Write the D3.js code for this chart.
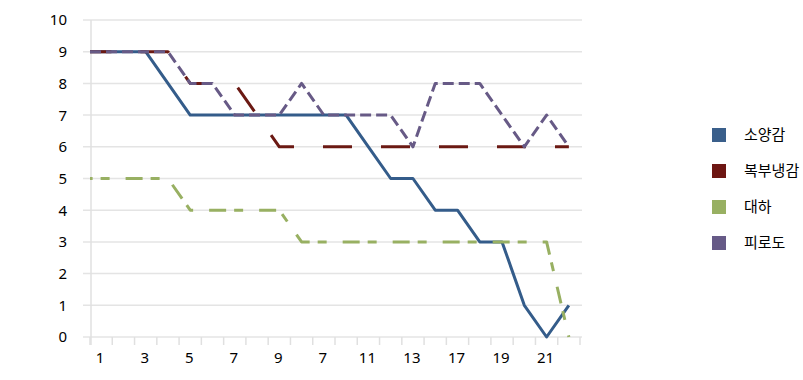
<!DOCTYPE html>
<html>
<head>
<meta charset="utf-8">
<script src="https://cdn.jsdelivr.net/npm/d3@7"></script>
<style>
  html, body { margin: 0; padding: 0; background: #fff; }
  svg { display: block; }
  text { font-family: "Noto Sans", "Noto Sans CJK KR", sans-serif; fill: #000; }
</style>
</head>
<body>
<svg id="chart" width="803" height="380"></svg>
<script>
// ---- data ----
const categories = ["1","2","3","4","5","6","7","8","9","10","11","12","13","14","15","16","17","18","19","20","21","22"];
const xTickLabels = ["1","3","5","7","9","7","11","13","17","19","21"];
const yTicks = [0,1,2,3,4,5,6,7,8,9,10];
const seriesNames = ["소양감","복부냉감","대하","피로도"];
const soyanggam     = [9,9,9,8,7,7,7,7,7,7,7,7,6,5,5,4,4,3,3,1,0,1];
const bokbunaenggam = [9,9,9,9,8,8,8,7,6,6,6,6,6,6,6,6,6,6,6,6,6,6];
const daeha         = [5,5,5,5,4,4,4,4,4,3,3,3,3,3,3,3,3,3,3,3,3,0];
const pirodo        = [9,9,9,9,8,8,7,7,7,8,7,7,7,7,6,8,8,8,7,6,7,6];

const seriesValues = [soyanggam, bokbunaenggam, daeha, pirodo];
const colors = ["#345c8a", "#6b1913", "#98b062", "#675a86"];
const dashes = [null, "29,29", "9,16,17,8", "11,5"];
const dashOffsets = [0, 7.6, 39.4, 0];
const legendColors = ["#3a5f8b", "#6d1612", "#98b062", "#665a87"];

const svg = d3.select("#chart");
const x = d3.scaleLinear().domain([0, categories.length]).range([90, 580]);
const y = d3.scaleLinear().domain([0, 10]).range([337, 20]);

// gridlines
svg.append("g")
  .selectAll("line").data(yTicks).join("line")
  .attr("x1", 83).attr("x2", 582)
  .attr("y1", d => y(d)).attr("y2", d => y(d))
  .attr("stroke", "#e4e4e4").attr("stroke-width", 1.5);

// y axis line
svg.append("line")
  .attr("x1", x(0) + 1).attr("x2", x(0) + 1)
  .attr("y1", y(10)).attr("y2", y(0) + 8)
  .attr("stroke", "#e0e0e0").attr("stroke-width", 1.5);

// x axis ticks
svg.append("g")
  .selectAll("line").data(d3.range(0, categories.length + 1)).join("line")
  .attr("x1", d => x(d)).attr("x2", d => x(d))
  .attr("y1", y(0)).attr("y2", y(0) + 8)
  .attr("stroke", "#e0e0e0").attr("stroke-width", 1.5);

// y labels
svg.append("g")
  .selectAll("text").data(yTicks).join("text")
  .attr("x", 67).attr("y", d => y(d))
  .attr("dy", "0.36em")
  .attr("text-anchor", "end")
  .style("font-size", "15px")
  .text(d => d);

// x labels at every other category
svg.append("g")
  .selectAll("text").data(xTickLabels).join("text")
  .attr("x", (d, i) => x(i * 2 + 0.5) - 1)
  .attr("y", 363)
  .attr("text-anchor", "middle")
  .style("font-size", "15px")
  .text(d => d);

// lines
const line = d3.line().x(d => x(d[0])).y(d => y(d[1]));
seriesValues.forEach((vals, s) => {
  const pts = [[0, vals[0]]].concat(vals.map((v, i) => [i + 0.5, v]));
  const p = svg.append("path")
    .attr("d", line(pts))
    .attr("fill", "none")
    .attr("stroke", colors[s])
    .attr("stroke-width", 3)
    .attr("stroke-linejoin", "round");
  if (dashes[s]) p.attr("stroke-dasharray", dashes[s]).attr("stroke-dashoffset", dashOffsets[s]);
});

// legend
const lg = svg.append("g");
seriesNames.forEach((name, i) => {
  const cy = 135 + i * 36;
  lg.append("rect")
    .attr("x", 712).attr("y", cy - 7)
    .attr("width", 14).attr("height", 14)
    .attr("fill", legendColors[i]);
  lg.append("text")
    .attr("x", 744).attr("y", cy)
    .attr("dy", "0.36em")
    .style("font-size", "15px")
    .style("font-family", "'Noto Sans CJK KR', sans-serif")
    .text(name);
});
</script>
</body>
</html>
